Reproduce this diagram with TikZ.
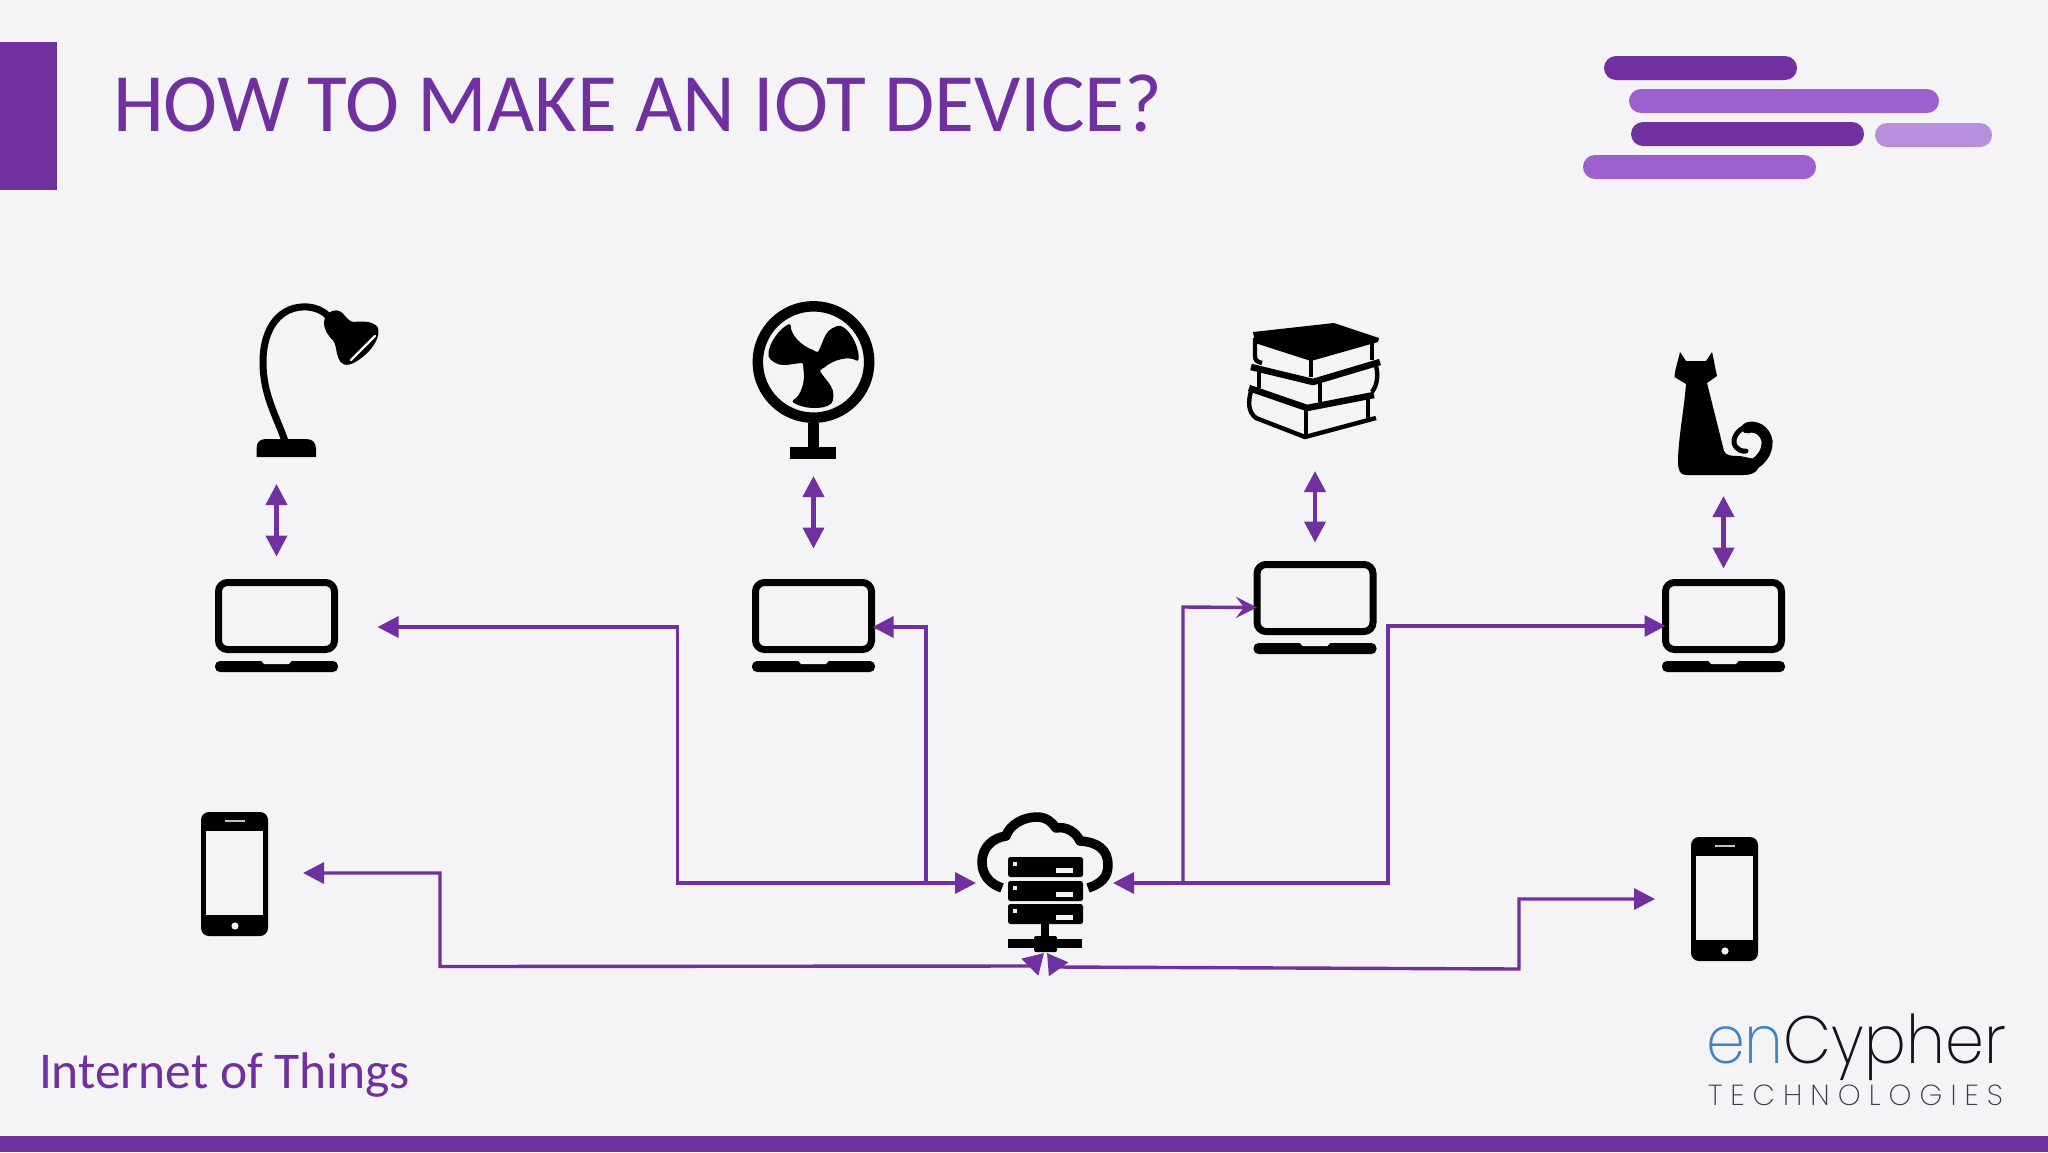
\documentclass[tikz,border=0pt]{standalone}
\usepackage{fontspec}
\usetikzlibrary{arrows.meta,calc}
\setmainfont{Carlito}
\newfontfamily\logofont{Poppins ExtraLight}
\definecolor{pagebg}{HTML}{F4F3F6}
\definecolor{pur}{HTML}{7030A0}
\definecolor{purmid}{HTML}{9E5FCF}
\definecolor{purlite}{HTML}{B78FDD}
\definecolor{logoblue}{HTML}{3F83BF}
\definecolor{logodark}{HTML}{141418}
\definecolor{logogray}{HTML}{3C3C42}
\tikzset{
  x=1pt,y=-1pt,
  pill/.style={rounded corners=12pt},
  screenbox/.style={draw=black,line width=7pt,rounded corners=9pt,inner sep=0pt,outer sep=0pt,minimum width=116pt,minimum height=67pt},
  zone/.style={inner sep=0pt,outer sep=0pt},
  link/.style={draw=pur,line width=3.4pt},
  head/.style={-{Triangle[length=21pt,width=21pt]}},
  twohead/.style={{Triangle[length=21pt,width=21pt]}-{Triangle[length=21pt,width=21pt]}},
  tiltedhead/.style={{Triangle[length=21pt,width=21pt]}-{Triangle[length=20pt,width=23pt]}},
  openhead/.style={-{Stealth[length=21pt,width=21pt,inset=8pt]}},
  duplex/.style={draw=pur,line width=4.2pt,twohead},
}
\newcommand{\lapicon}[3]{%
  \begin{scope}[shift={(#2,#3)}]
    \node[screenbox] (#1) at (0,37) {};
    \fill[black,rounded corners=5pt] (-61.5,82) rectangle (61.5,93);
    \fill[pagebg] (-15.5,81.5) -- (15.5,81.5) -- (12.5,85) -- (-12.5,85) -- cycle;
  \end{scope}}
\newcommand{\phoneicon}[3]{%
  \begin{scope}[shift={(#2,#3)}]
    \node[zone,minimum width=67pt,minimum height=124pt,fill=black,rounded corners=8pt] (#1) at (33.5,62) {};
    \fill[pagebg] (5,19) rectangle (62,103);
    \fill[pagebg!80!black] (24,8.2) rectangle (44,9.8);
    \fill[pagebg] (34,114) circle (3.6pt);
  \end{scope}}
\begin{document}
\begin{tikzpicture}
\useasboundingbox (0,0) rectangle (2048,1152);
\fill[pagebg] (0,0) rectangle (2048,1152);
% frame
\fill[pur] (0,42) rectangle (57,190);
\fill[pur] (0,1136) rectangle (2048,1152);
\node[zone,anchor=base west,text=pur] (title) at (113,131) {\scalebox{.983}[1]{\fontsize{83}{90}\selectfont HOW TO MAKE AN IOT DEVICE?}};
\node[zone,anchor=base west,text=pur] (foot) at (39,1088) {\fontsize{51.5}{60}\selectfont Internet of Things};
% deco bars
\fill[pur,pill] (1604,56) rectangle (1797,80);
\fill[purmid,pill] (1629,89) rectangle (1939,113);
\fill[pur,pill] (1631,122) rectangle (1864,146);
\fill[purlite,pill] (1875,123) rectangle (1992,147);
\fill[purmid,pill] (1583,155) rectangle (1816,179);
% laptops
\lapicon{lapA}{276.5}{579}
\lapicon{lapB}{813.5}{579}
\lapicon{lapC}{1315}{561}
\lapicon{lapD}{1723.5}{579}
% lamp
\node[zone,minimum width=124pt,minimum height=150pt] (lamp) at (318,382) {};
\fill[black] (256.5,457) -- (256.5,449) .. controls (256.5,442) and (260,439) .. (266,439) -- (306,439) .. controls (312,439) and (316,442) .. (316,449) -- (316,457) -- cycle;
\draw[black,line width=7pt] (285,441) .. controls (276,415) and (263,395) .. (263,362) .. controls (263,328) and (280,305) .. (308,307) .. controls (316,308) and (322,310) .. (328,316);
\filldraw[black,line width=2pt,line join=round] (325,322) .. controls (326,313) and (336,308) .. (342,314) .. controls (347,320) and (350,323) .. (354,323) .. controls (362,322) and (373,322) .. (377,328) .. controls (379,335) and (375,346) .. (361,357) .. controls (352,364) and (345,366) .. (341,361) .. controls (336,352) and (338,345) .. (334,340) .. controls (329,335) and (325,330) .. (325,322) -- cycle;
\draw[pagebg,line width=2.4pt,line cap=round] (375,336) -- (351,360);
% fan
\node[zone,minimum width=123pt,minimum height=158pt] (fan) at (813.5,380) {};
\draw[black,line width=10.5pt] (813.5,362) circle (55.7pt);
\fill[black] (808,423) rectangle (819,450);
\fill[black] (790,447) rectangle (836,459);
\begin{scope}[shift={(813.5,362)}]
  \fill[black] (0,0) circle (11pt);
  \foreach \ang in {0,120,240}{
    \fill[black,rotate=\ang,rounded corners=3pt] (-2,-8) .. controls (8,-8) and (8,-28) .. (21,-35) .. controls (32,-39) and (46,-18) .. (45,0) .. controls (36,-6) and (20,-3) .. (8,8) -- cycle;
  }
\end{scope}
% books
\node[zone,minimum width=132pt,minimum height=116pt] (books) at (1315,381) {};
\begin{scope}[black,line width=4.4pt,line join=round]
  \fill[black] (1253,332) -- (1334,323) -- (1379,338) -- (1378,342) -- (1311,361) -- (1255,343) -- cycle;
  \draw (1255,338) -- (1255,356) .. controls (1255,360) and (1257,362) .. (1262,363);
  \draw[line width=3.4pt] (1311,357) -- (1311,377);
  \draw (1372,342) -- (1372,360);
  \draw[line width=6.5pt] (1251,367) -- (1313,382) -- (1380,362);
  \draw (1259,369) -- (1259,388);
  \draw[line width=3.4pt] (1320,380) -- (1320,402);
  \draw (1376,366) .. controls (1378,374) and (1378,384) .. (1372,392);
  \draw[line width=6.5pt] (1249,388) -- (1307,408) -- (1374,395);
  \draw (1251,391) .. controls (1248,402) and (1248,412) .. (1256,418) -- (1305,437) -- (1376,418);
  \draw[line width=3.4pt] (1306,408) -- (1306,437);
  \draw (1368,397) -- (1368,418);
\end{scope}
% cat
\node[zone,minimum width=100pt,minimum height=124pt] (cat) at (1724,413) {};
\fill[black] (1680,352) .. controls (1678,362) and (1675,368) .. (1674.5,377) -- (1686,384) .. controls (1684,410) and (1678,440) .. (1678,462) .. controls (1678,470) and (1680,475) .. (1686,475) -- (1744,475) .. controls (1752,475) and (1760,472) .. (1760,460) -- (1740,456) .. controls (1732,456) and (1726,456) .. (1724,451) -- (1707,383) -- (1717,376) .. controls (1715,368) and (1714,360) .. (1712,352) -- (1706,361) -- (1686,361) -- cycle;
\draw[black,line width=11pt,line cap=round] (1745,468) .. controls (1760,464) and (1768,452) .. (1767,441) .. controls (1765,430) and (1755,425) .. (1747,428);
\draw[black,line width=5pt,line cap=round] (1750,426) .. controls (1740,427) and (1733,436) .. (1734,443) .. controls (1736,450) and (1743,452) .. (1746,451);
% phones
\phoneicon{phA}{201}{812}
\phoneicon{phB}{1691}{837}
% server
\node[zone,minimum width=128pt,minimum height=136pt] (srv) at (1046,885) {};
\draw[black,line width=9.5pt,line join=round] (1002,888) .. controls (990,884) and (982,875) .. (982,862) .. controls (982,848) and (992,838) .. (1006,836) .. controls (1010,824) and (1024,817) .. (1037,817) .. controls (1046,817) and (1052,822) .. (1056,828) .. controls (1066,826) and (1076,832) .. (1080,841) .. controls (1098,842) and (1108,850) .. (1108,865) .. controls (1108,878) and (1100,884) .. (1088,888);
\foreach \ry in {857,881,904}{
  \fill[black,rounded corners=2.5pt] (1008,\ry) rectangle (1083,\ry+20);
  \fill[pagebg] (1013,\ry+5) rectangle (1017,\ry+9);
  \fill[pagebg] (1056,\ry+11) rectangle (1073,\ry+16);
}
\fill[black] (1041,924) rectangle (1049,938);
\fill[black,rounded corners=2pt] (1034,936) rectangle (1057,952);
\fill[black] (1008,939) rectangle (1082,948);
% duplex links
\draw[duplex,shorten <=27pt,shorten >=26pt] (lamp.south -| lapA.north) -- (lapA.north);
\draw[duplex,shorten <=17pt,shorten >=34pt] (fan.south -| lapB.north) -- (lapB.north);
\draw[duplex,shorten <=32pt,shorten >=22pt] (books.south -| lapC.north) -- (lapC.north);
\draw[duplex,shorten <=21pt,shorten >=14pt] (cat.south -| lapD.north) -- (lapD.north);
% anchors of the routed links
\coordinate (srvW) at ($(srv.west)+(-6,-2)$);
\coordinate (srvE) at ($(srv.east)+(3,-2)$);
\coordinate (inA) at ($(lapA.east)+(43,11)$);
\coordinate (inB) at ($(lapB.east)+(1,11)$);
\coordinate (inC) at ($(lapC.west)+(0,9.5)$);
\coordinate (inD) at ($(lapD.west)+(0,10)$);
\coordinate (inP) at ($(phA.east)+(35,-1)$);
\coordinate (inQ) at ($(phB.west)+(-36,0)$);
\coordinate (srvSL) at ($(srv.south)+(-2,0)$);
\coordinate (srvSR) at ($(srv.south)+(1,0)$);
% routed links
\draw[link,twohead] (inA) -- (677.5,627) -- (677.5,883) -- (srvW);
\draw[link,head] (926,883) -- (926,627) -- (inB);
\draw[link,openhead] (1183,883) -- (1183,607) -- (inC);
\draw[link,twohead] (inD) -- (1388,626) -- (1388,883) -- (srvE);
\draw[link,tiltedhead] (inP) -- (440,873) -- (440,966.5) -- (1031,966) -- (srvSL);
\draw[link,tiltedhead] (inQ) -- (1519,899) -- (1519,969) -- (1057,967) -- (srvSR);
% logo
\node[zone,anchor=base west,text=logoblue] (logoA) at (1706,1063) {\scalebox{.93}[1]{\logofont\fontsize{67}{70}\selectfont en}};
\node[zone,anchor=base west,text=logodark] (logoB) at (logoA.base east) {\scalebox{.93}[1]{\logofont\fontsize{67}{70}\selectfont Cypher}};
\node[zone,anchor=base west,text=logogray] (logoC) at (1708,1105) {\logofont\fontsize{29}{32}\selectfont\makebox[295pt]{T\hfill E\hfill C\hfill H\hfill N\hfill O\hfill L\hfill O\hfill G\hfill I\hfill E\hfill S}};
\end{tikzpicture}
\end{document}
